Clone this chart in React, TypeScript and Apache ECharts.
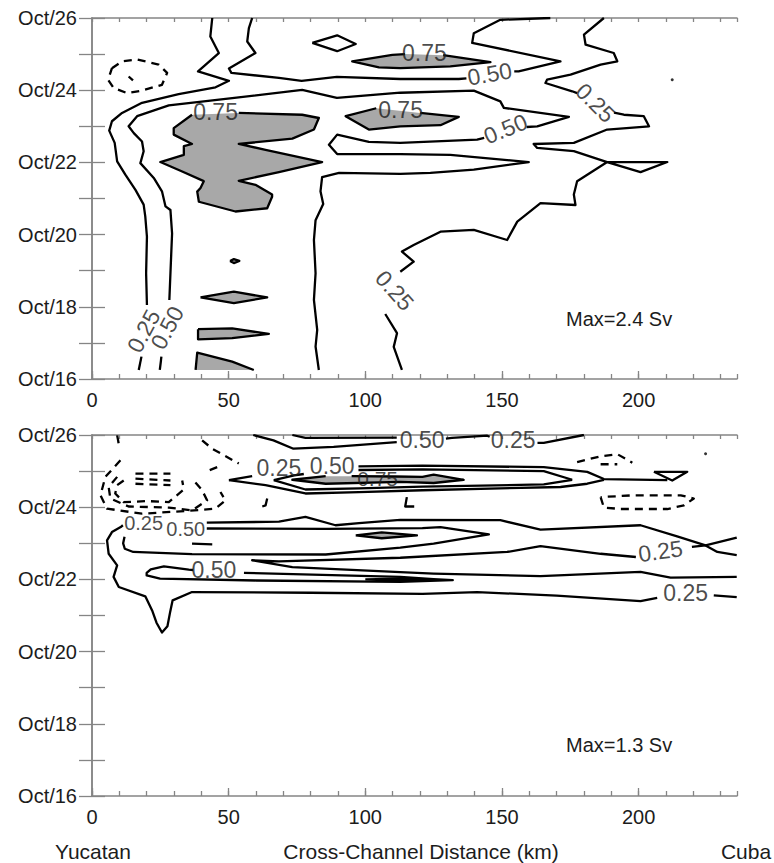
import React, { useEffect, useRef } from 'react';
import * as echarts from 'echarts';

// ---------- axes ----------
const X_MAX = 236;
const DAY_MAX = 10;
const dayLabels = ['Oct/16', 'Oct/18', 'Oct/20', 'Oct/22', 'Oct/24', 'Oct/26'];

// ---------- TOP PANEL (x: km, y: days after Oct 16) ----------
const top025LeftA = [[44.0,10],[43.3,9.49],[46.4,9.03],[38.8,8.52],[50.1,8.26],[45.2,8.08],[31.7,7.89],[18.3,7.65],[11.0,7.37],[7.3,7.14],[6.3,6.88],[8.3,6.54],[9.2,6.03],[12.2,5.66],[15.9,5.24],[18.9,4.83],[19.5,4.5],[20.1,3.94],[19.8,2.93],[20.1,2.05]];
const top025LeftB = [[18.1,0.62],[17.1,0.25]];
const top050MainA = [[24.8,0.25],[25.4,0.62]];
const top050MainB = [[28.3,2.19],[28.7,2.93],[29.3,4.03],[28.7,4.68],[26.9,4.78],[25.6,5.2],[22.6,5.57],[17.7,5.98],[18.9,6.31],[18.3,6.58],[15.3,6.81],[13.4,7.0],[16.5,7.28],[28.1,7.58],[51.3,7.78],[76.9,8.01],[89.6,7.79],[112.8,7.93],[139.7,7.99],[149.4,7.69],[150.7,7.51],[174.5,7.26],[162.9,7.0],[159,6.98]];
const top050MainC = [[143.5,6.68],[140.9,6.63],[112.8,6.54],[101.3,6.57],[89.7,6.77],[86.7,6.49],[89.7,6.23],[112.8,6.23],[131.1,6.21],[159.8,6.01],[139.7,5.8],[123.8,5.71],[112.8,5.68],[90.4,5.71],[84.2,5.59],[83.6,5.2],[84.6,4.85],[81.8,4.4],[81.2,3.85],[81.8,2.93],[81.2,2.19],[82.4,1.36],[81.8,0.9],[83.0,0.25]];
const top050UpperA = [[58.6,10],[57.4,9.72],[56.8,9.35],[59.8,9.03],[50.1,8.6],[51.0,8.48],[68.4,8.34],[76.7,8.26],[89.6,8.37],[112.8,8.31],[134.2,8.31],[137.0,8.33]];
const top050UpperB = [[154.5,8.52],[156.1,8.52],[171.4,8.8],[139.1,9.31],[139.7,9.58],[149.4,9.95],[167.7,10]];
const top025RightA = [[187.3,10],[180,9.54],[180.6,9.26],[190.9,9.03],[192.2,8.8],[186.1,8.71],[175.1,8.43],[166.5,8.29],[165.9,8.2],[175.7,7.97],[177.5,7.92]];
const top025RightB = [[191,7.38],[194.6,7.32],[201.9,7.28],[203.8,7.0],[188.5,6.91],[176.3,6.54],[161.6,6.51],[162.9,6.4],[176.3,6.31],[188.5,6.01],[210.5,6.01],[200.7,5.73],[188.5,6.01],[177.5,5.48],[176.3,5.11],[176.9,4.82],[164.1,4.87],[155.6,4.36],[151.9,3.85],[139.7,4.13],[127.5,4.08],[117.7,3.71],[113.4,3.53],[117.7,3.25],[112.8,2.97]];
const top025RightC = [[107.3,1.8],[111.6,1.27],[110.4,0.89],[113.4,0.25]];
const topDiamond = [[80.6,9.31],[89.7,9.52],[96.5,9.28],[89.7,9.08],[80.6,9.31]];
const topNegLoop = [[7.3,8.61],[11.0,8.8],[16.5,8.85],[24.4,8.71],[27.5,8.48],[25.6,8.15],[18.3,7.99],[12.8,7.92],[7.9,8.06],[5.9,8.29],[7.3,8.61]];
const topNegTick = [[13.4,8.38],[15.0,8.27]];
const topGrayBig = [[29.9,6.95],[36.6,7.32],[53.7,7.37],[76.9,7.32],[83.0,7.23],[81.2,6.91],[73.3,6.66],[53.7,6.51],[63.5,6.35],[84.2,6.01],[68.4,5.73],[53.7,5.49],[59.8,5.38],[65.9,5.11],[65.9,5.05],[64.1,4.73],[52.5,4.64],[39.1,4.91],[38.5,5.19],[39.7,5.29],[40.9,5.48],[33.0,5.75],[25.0,6.01],[33.6,6.21],[33.6,6.45],[36.6,6.51],[29.9,6.77]];
const topGrayUpper = [[95.2,8.8],[109.9,8.98],[114.5,9.0],[128.5,8.97],[145.8,8.78],[131.1,8.66],[112.8,8.61],[105.0,8.63]];
const topGrayMid = [[92.8,7.28],[104,7.5],[120.1,7.37],[134.2,7.26],[127.5,7.03],[112.8,7.0],[101.3,6.91]];
const topGrayDot = [[50.5,3.27],[51.9,3.32],[53.9,3.27],[51.9,3.21]];
const topGrayDiamond = [[39.7,2.26],[51.9,2.42],[64.1,2.26],[51.9,2.1]];
const topGrayTri = [[38.8,1.38],[51.3,1.4],[64.7,1.25],[51.3,1.13],[38.8,1.1]];
const topGrayWedge = [[37.9,0.25],[38.5,0.73],[51.3,0.48],[59.2,0.25]];
const topDots = [[212.3,8.29]];
const topLabels = [
  { t: '0.75', x: 45.2, y: 7.39, r: 0, s: 23 },
  { t: '0.75', x: 121.6, y: 9.03, r: 0, s: 23 },
  { t: '0.75', x: 112.9, y: 7.46, r: 0, s: 23 },
  { t: '0.50', x: 145.5, y: 8.45, r: 10, s: 23 },
  { t: '0.50', x: 151.3, y: 6.93, r: 22, s: 23 },
  { t: '0.25', x: 184.2, y: 7.65, r: -45, s: 23 },
  { t: '0.25', x: 110.7, y: 2.45, r: -48, s: 23 },
  { t: '0.25', x: 18.9, y: 1.33, r: 62, s: 23 },
  { t: '0.50', x: 27.5, y: 1.42, r: 62, s: 23 },
];

// ---------- BOTTOM PANEL ----------
const botTopLower = [[59.0,10.0],[66.4,9.85],[73.7,9.62],[88.4,9.67],[111.5,9.8]];
const botTopUpper = [[73.3,10.0],[78.1,9.92],[111.5,9.93]];
const botTopRightA = [[129.5,9.9],[131.7,9.92],[144.6,9.98],[145.5,9.95]];
const botTopRightB = [[163,9.78],[165.3,9.78],[180,10.0]];
const botOuterTopA = [[50.1,8.75],[58.6,8.86]];
const botOuterTopB = [[97.5,9.13],[120.9,9.15],[165.3,9.11],[181.2,8.98],[187.3,8.78],[210.5,8.75]];
const botOuterBottom = [[50.1,8.75],[63.5,8.61],[78.1,8.38],[97.7,8.42],[120.9,8.47],[171.4,8.56],[181.2,8.65],[187.3,8.76]];
const botTriangle = [[205.6,8.98],[217.8,8.98],[212.3,8.74],[205.6,8.98]];
const botInnerTopA = [[66.5,8.75],[74,8.88],[77.5,8.92]];
const botInnerTopB = [[97.5,9.03],[120.9,9.05],[165.3,9.0],[175.7,8.76]];
const botInnerBottom = [[66.5,8.75],[78.1,8.49],[97.7,8.52],[120.9,8.57],[165.3,8.63],[175.7,8.76]];
const botGrayUpper = [[73.3,8.76],[85.5,8.86],[95,8.86],[111,8.85],[120.9,8.84],[125.0,8.9],[136.0,8.76],[125.0,8.67],[112.8,8.7],[85.5,8.65]];
const botM1 = [[42,7.57],[68.4,7.6],[78.1,7.73],[89.1,7.5],[97.7,7.56],[112.8,7.65],[149.4,7.64],[164.1,7.38],[200.7,7.5],[214.1,7.19],[224.5,6.94],[228.8,6.76],[235.9,6.67]];
const botM2 = [[11.9,7.18],[11.4,7.0],[12.0,6.85],[15.1,6.76],[36.6,6.7],[85.5,6.69],[112.8,6.88],[125.0,6.99],[145.2,7.25],[127.5,7.45],[120.9,7.42],[85.5,7.4],[42,7.41]];
const botShortDash = [[36.6,6.99],[44.0,6.97]];
const botGrayDiamond = [[96.5,7.22],[106,7.3],[118.9,7.22],[106,7.14]];
const botM3A = [[235.9,7.16],[224.5,6.94],[219.5,6.9]];
const botM3B = [[199,6.62],[186.1,6.71],[164.1,6.92],[151.9,6.76],[112.8,6.6],[68.4,6.5],[58.6,6.53],[73.3,6.34],[112.8,6.2],[125.0,6.16],[164.1,6.09],[200.7,6.21],[211.7,6.05],[235.9,6.07]];
const botBand3A = [[37,6.26],[35.4,6.27],[26.3,6.36],[21.5,6.28],[20.0,6.18],[20.0,6.11],[24.9,6.02],[60,5.97],[112.8,5.93],[132,5.98],[125,6.01],[112.8,6.07],[55.6,6.18]];
const botGraySliver = [[100,6.0],[112.8,6.02],[125,5.99],[112.8,5.96]];
const botOuterA = [[11.3,7.5],[10.5,7.45],[7.3,7.31],[5.5,7.08],[6.1,6.71],[9.2,6.39],[7.9,6.07],[9.8,5.79],[19.5,5.53],[22.0,5.14],[23.6,4.8],[25.6,4.53],[27.6,4.7],[28.6,5.1],[29.5,5.42],[36.6,5.65],[80,5.63],[120.9,5.6],[140.9,5.65],[170,5.55],[200.7,5.4],[206.8,5.49]];
const botOuterB = [[227.5,5.56],[235.9,5.51]];
const botNegLines = [
  [[15.9,8.93],[28.7,8.93]],
  [[15.9,8.79],[28.7,8.74]],
  [[15.9,8.65],[28.7,8.61]],
  [[11.6,8.74],[9.2,8.61],[8.5,8.38],[11.6,8.14],[20.1,8.17],[28.1,8.14],[33.6,8.49],[33.0,8.74]],
  [[9.2,8.84],[6.1,8.56],[6.7,8.24],[13.4,8.02],[28.1,7.99],[36.6,7.91],[42.1,8.19],[40.3,8.47],[37.2,8.74]],
  [[10.4,9.3],[4.9,8.84],[3.1,8.33],[5.5,7.96],[18.3,7.82],[35.4,7.9],[45.2,7.96],[48.8,8.19],[47.0,8.42]],
  [[40.3,9.85],[44.0,9.62],[53.7,9.21]],
  [[45.8,9.11],[41.5,8.98]],
  [[9.2,9.99],[10.0,9.67]],
  [[177.5,9.25],[186.1,9.41],[192.2,9.47],[197.7,9.23]],
  [[186.1,9.19],[192.2,9.19]],
  [[186.1,8.28],[187.3,7.99],[193.4,7.95],[210.5,7.95],[216.6,8.05],[220.2,8.24],[215.4,8.33],[198.3,8.33],[186.1,8.28]],
];
const botSmallA = [[115.2,8.28],[114.6,8.02],[117.9,8.02]];
const botSmallB = [[64.1,8.24],[63.5,8.05],[62.3,8.02]];
const botDots = [[224.5,9.48]];
const botLabels = [
  { t: '0.50', x: 120.8, y: 9.87, r: 0, s: 23 },
  { t: '0.25', x: 154.1, y: 9.85, r: 0, s: 23 },
  { t: '0.25', x: 68.4, y: 9.08, r: 0, s: 23 },
  { t: '0.50', x: 87.9, y: 9.14, r: 0, s: 23 },
  { t: '0.75', x: 104.5, y: 8.8, r: 0, s: 21 },
  { t: '0.25', x: 18.9, y: 7.56, r: 0, s: 20 },
  { t: '0.50', x: 34.3, y: 7.39, r: 0, s: 20 },
  { t: '0.50', x: 44.6, y: 6.25, r: 0, s: 23 },
  { t: '0.25', x: 208.0, y: 6.78, r: 8, s: 23 },
  { t: '0.25', x: 217.2, y: 5.63, r: 0, s: 23 },
];

const FONT = '"Liberation Sans", Arial, Helvetica, sans-serif';
const AXIS_GRAY = '#858585';
const TEXT = '#1c1c1c';
const GRAY_FILL = '#a8a8a8';
const LW = 2.3;

function closeLoop(pts: number[][]) { return pts.concat([pts[0]]); }
function openAt(pts: number[][], gap: number) {
  return pts.slice(gap + 1).concat(pts.slice(0, gap + 1));
}

function lineS(data: number[][], g: number, dashed = false, width = LW) {
  return {
    type: 'line', xAxisIndex: 3 * g, yAxisIndex: 2 * g, data,
    showSymbol: false, symbol: 'none', silent: true, z: 4, animation: false,
    lineStyle: { color: '#000', width, type: dashed ? [8, 6] : 'solid', cap: 'butt', join: 'round' },
  };
}
function polyS(pts: number[][], g: number) {
  return {
    type: 'custom', xAxisIndex: 3 * g, yAxisIndex: 2 * g, data: [pts[0]], silent: true, z: 2,
    renderItem: (_p: any, api: any) => ({
      type: 'polygon',
      shape: { points: pts.map((p) => api.coord(p)) },
      style: { fill: GRAY_FILL, stroke: 'none' },
    }),
  };
}
function labelS(labels: any[], g: number) {
  return {
    type: 'scatter', xAxisIndex: 3 * g, yAxisIndex: 2 * g, symbolSize: 0, silent: true, z: 6,
    data: labels.map((l) => ({ name: l.t, value: [l.x, l.y], label: { rotate: l.r, fontSize: l.s } })),
    label: {
      show: true, position: 'inside', formatter: (p: any) => p.name,
      fontSize: 23, fontFamily: FONT, color: TEXT,
    },
  };
}
function dotS(pts: number[][], g: number) {
  return { type: 'scatter', xAxisIndex: 3 * g, yAxisIndex: 2 * g, data: pts, symbolSize: 3, itemStyle: { color: '#000' }, silent: true, z: 5 };
}

function axesFor(g: number) {
  const lineStyle = { color: AXIS_GRAY, width: 1.5 };
  const tickStyle = { color: AXIS_GRAY, width: 1.3 };
  const xs = [
    { gridIndex: g, type: 'value', min: 0, max: X_MAX, interval: 50, position: 'bottom',
      axisLine: { show: true, lineStyle }, axisTick: { show: true, inside: true, length: 8, lineStyle: tickStyle },
      axisLabel: { show: true, fontSize: 20, color: TEXT, margin: 11, fontFamily: FONT, showMaxLabel: false },
      splitLine: { show: false } },
    { gridIndex: g, type: 'value', min: 0, max: X_MAX, interval: 10, position: 'bottom',
      axisLine: { show: false }, axisTick: { show: true, inside: true, length: 5, lineStyle: tickStyle },
      axisLabel: { show: false }, splitLine: { show: false } },
    { gridIndex: g, type: 'value', min: 0, max: X_MAX, interval: 10, position: 'top',
      axisLine: { show: true, lineStyle }, axisTick: { show: true, inside: true, length: 4, lineStyle: tickStyle },
      axisLabel: { show: false }, splitLine: { show: false } },
  ];
  const ys = [
    { gridIndex: g, type: 'value', min: 0, max: DAY_MAX, interval: 1, position: 'left',
      axisLine: { show: true, lineStyle }, axisTick: { show: true, inside: true, length: 13, lineStyle: tickStyle },
      axisLabel: { show: true, fontSize: 20, color: TEXT, margin: 15, fontFamily: FONT,
        formatter: (v: number) => (v % 2 === 0 ? dayLabels[v / 2] : '') },
      splitLine: { show: false } },
    { gridIndex: g, type: 'value', min: 0, max: DAY_MAX, interval: 1, position: 'right',
      axisLine: { show: true, lineStyle }, axisTick: { show: true, inside: true, length: 13, lineStyle: tickStyle },
      axisLabel: { show: false }, splitLine: { show: false } },
  ];
  return { xs, ys };
}

export default function App() {
  const ref = useRef<HTMLDivElement>(null);
  useEffect(() => {
    if (!ref.current) return;
    const chart = echarts.init(ref.current, undefined, { renderer: 'svg' });
    const a0 = axesFor(0);
    const a1 = axesFor(1);
    const T = 0, B = 1;
    const series: any[] = [
      polyS(topGrayBig, T), polyS(topGrayUpper, T), polyS(topGrayMid, T), polyS(topGrayDot, T),
      polyS(topGrayDiamond, T), polyS(topGrayTri, T), polyS(topGrayWedge, T),
      lineS(openAt(topGrayBig, 1), T), lineS(openAt(topGrayUpper, 2), T), lineS(openAt(topGrayMid, 1), T),
      lineS(closeLoop(topGrayDot), T), lineS(closeLoop(topGrayDiamond), T), lineS(closeLoop(topGrayTri), T),
      lineS(topGrayWedge, T),
      lineS(top025LeftA, T), lineS(top025LeftB, T),
      lineS(top050MainA, T), lineS(top050MainB, T), lineS(top050MainC, T),
      lineS(top050UpperA, T), lineS(top050UpperB, T),
      lineS(top025RightA, T), lineS(top025RightB, T), lineS(top025RightC, T),
      lineS(topDiamond, T), lineS(topNegLoop, T, true), lineS(topNegTick, T),
      dotS(topDots, T), labelS(topLabels, T),
      polyS(botGrayUpper, B), polyS(botGrayDiamond, B), polyS(botGraySliver, B),
      lineS(openAt(botGrayUpper, 1), B), lineS(closeLoop(botGrayDiamond), B), lineS(closeLoop(botGraySliver), B),
      lineS(botTopLower, B), lineS(botTopUpper, B), lineS(botTopRightA, B), lineS(botTopRightB, B),
      lineS(botOuterTopA, B), lineS(botOuterTopB, B), lineS(botOuterBottom, B), lineS(botTriangle, B),
      lineS(botInnerTopA, B), lineS(botInnerTopB, B), lineS(botInnerBottom, B),
      lineS(botM1, B), lineS(botM2, B), lineS(botShortDash, B),
      lineS(botM3A, B), lineS(botM3B, B), lineS(botBand3A, B),
      lineS(botOuterA, B), lineS(botOuterB, B),
      ...botNegLines.map((d) => lineS(d, B, true)),
      lineS(botSmallA, B), lineS(botSmallB, B),
      dotS(botDots, B), labelS(botLabels, B),
    ];
    chart.setOption({
      animation: false,
      backgroundColor: '#fff',
      grid: [
        { left: 92, top: 18, width: 645, height: 361 },
        { left: 92, top: 435, width: 645, height: 361 },
      ],
      xAxis: [...a0.xs, ...a1.xs],
      yAxis: [...a0.ys, ...a1.ys],
      series,
      graphic: [
        { type: 'text', x: 566, y: 319, style: { text: 'Max=2.4 Sv', fontSize: 20, fontFamily: FONT, fill: TEXT, verticalAlign: 'middle' } },
        { type: 'text', x: 566, y: 745, style: { text: 'Max=1.3 Sv', fontSize: 20, fontFamily: FONT, fill: TEXT, verticalAlign: 'middle' } },
        { type: 'text', x: 93, y: 851, style: { text: 'Yucatan', fontSize: 21, fontFamily: FONT, fill: TEXT, align: 'center', verticalAlign: 'middle' } },
        { type: 'text', x: 421, y: 851, style: { text: 'Cross-Channel Distance (km)', fontSize: 21, fontFamily: FONT, fill: TEXT, align: 'center', verticalAlign: 'middle' } },
        { type: 'text', x: 746, y: 851, style: { text: 'Cuba', fontSize: 21, fontFamily: FONT, fill: TEXT, align: 'center', verticalAlign: 'middle' } },
      ],
    });
    return () => chart.dispose();
  }, []);
  return <div ref={ref} style={{ position: 'absolute', left: 0, top: 0, width: 774, height: 863 }} />;
}
